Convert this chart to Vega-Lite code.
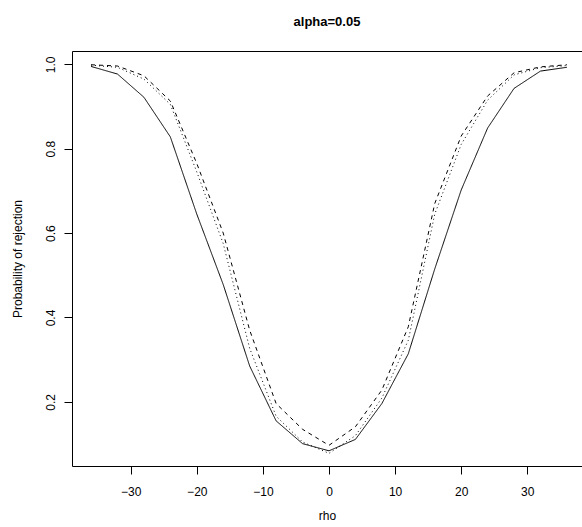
{
  "$schema": "https://vega.github.io/schema/vega-lite/v6.json",
  "width": 510,
  "height": 415,
  "autosize": {"type": "none"},
  "padding": {"left": 72, "top": 51, "right": 0, "bottom": 61},
  "background": "white",
  "title": {"text": "alpha=0.05", "font": "Liberation Sans", "fontSize": 13, "fontWeight": "bold", "color": "black", "anchor": "middle", "offset": 22},
  "config": {
    "view": {"stroke": null},
    "axis": {"labelFont": "Liberation Sans", "titleFont": "Liberation Sans", "labelColor": "black", "titleColor": "black", "tickColor": "black", "domainColor": "black", "grid": false, "titleFontWeight": "normal"}
  },
  "data": {"values": [
    {"rho": -36, "p": 0.995, "s": "a"}, {"rho": -32, "p": 0.977, "s": "a"}, {"rho": -28, "p": 0.922, "s": "a"}, {"rho": -24, "p": 0.828, "s": "a"}, {"rho": -20, "p": 0.645, "s": "a"}, {"rho": -16, "p": 0.478, "s": "a"}, {"rho": -12, "p": 0.285, "s": "a"}, {"rho": -8, "p": 0.155, "s": "a"}, {"rho": -4, "p": 0.101, "s": "a"}, {"rho": 0, "p": 0.084, "s": "a"}, {"rho": 4, "p": 0.111, "s": "a"}, {"rho": 8, "p": 0.196, "s": "a"}, {"rho": 12, "p": 0.314, "s": "a"}, {"rho": 16, "p": 0.515, "s": "a"}, {"rho": 20, "p": 0.702, "s": "a"}, {"rho": 24, "p": 0.849, "s": "a"}, {"rho": 28, "p": 0.943, "s": "a"}, {"rho": 32, "p": 0.984, "s": "a"}, {"rho": 36, "p": 0.993, "s": "a"},
    {"rho": -36, "p": 0.999, "s": "b"}, {"rho": -32, "p": 0.996, "s": "b"}, {"rho": -28, "p": 0.973, "s": "b"}, {"rho": -24, "p": 0.913, "s": "b"}, {"rho": -20, "p": 0.765, "s": "b"}, {"rho": -16, "p": 0.600, "s": "b"}, {"rho": -12, "p": 0.370, "s": "b"}, {"rho": -8, "p": 0.196, "s": "b"}, {"rho": -4, "p": 0.135, "s": "b"}, {"rho": 0, "p": 0.097, "s": "b"}, {"rho": 4, "p": 0.141, "s": "b"}, {"rho": 8, "p": 0.228, "s": "b"}, {"rho": 12, "p": 0.378, "s": "b"}, {"rho": 16, "p": 0.670, "s": "b"}, {"rho": 20, "p": 0.830, "s": "b"}, {"rho": 24, "p": 0.925, "s": "b"}, {"rho": 28, "p": 0.980, "s": "b"}, {"rho": 32, "p": 0.994, "s": "b"}, {"rho": 36, "p": 0.999, "s": "b"},
    {"rho": -36, "p": 0.998, "s": "c"}, {"rho": -32, "p": 0.993, "s": "c"}, {"rho": -28, "p": 0.965, "s": "c"}, {"rho": -24, "p": 0.905, "s": "c"}, {"rho": -20, "p": 0.745, "s": "c"}, {"rho": -16, "p": 0.575, "s": "c"}, {"rho": -12, "p": 0.327, "s": "c"}, {"rho": -8, "p": 0.166, "s": "c"}, {"rho": -4, "p": 0.105, "s": "c"}, {"rho": 0, "p": 0.078, "s": "c"}, {"rho": 4, "p": 0.120, "s": "c"}, {"rho": 8, "p": 0.209, "s": "c"}, {"rho": 12, "p": 0.346, "s": "c"}, {"rho": 16, "p": 0.645, "s": "c"}, {"rho": 20, "p": 0.810, "s": "c"}, {"rho": 24, "p": 0.915, "s": "c"}, {"rho": 28, "p": 0.975, "s": "c"}, {"rho": 32, "p": 0.992, "s": "c"}, {"rho": 36, "p": 0.997, "s": "c"}
  ]},
  "layer": [
    {
      "mark": {"type": "line", "strokeWidth": 1, "color": "black"},
      "encoding": {
        "x": {"field": "rho", "type": "quantitative", "scale": {"domain": [-38.88, 38.28], "nice": false, "zero": false},
          "axis": {"values": [-30, -20, -10, 0, 10, 20, 30], "tickSize": 8, "labelPadding": 12, "labelFontSize": 12, "title": "rho", "titleFontSize": 12, "titleY": 49, "titleBaseline": "middle", "domain": true}},
        "y": {"field": "p", "type": "quantitative", "scale": {"domain": [0.048, 1.0316], "nice": false, "zero": false},
          "axis": {"values": [0.2, 0.4, 0.6, 0.8, 1.0], "format": ".1f", "tickSize": 8, "labelAngle": -90, "labelAlign": "center", "labelBaseline": "alphabetic", "labelPadding": 10, "labelFontSize": 12, "title": "Probability of rejection", "titleFontSize": 12, "titleAngle": -90, "titleX": -55, "titleY": 207.5, "titleAlign": "center", "titleBaseline": "middle", "domain": true}},
        "strokeDash": {"field": "s", "type": "nominal", "scale": {"domain": ["a", "b", "c"], "range": [[1, 0], [4, 4], [1, 3]]}, "legend": null}
      }
    },
    {
      "mark": {"type": "line", "opacity": 0},
      "encoding": {
        "x": {"field": "rho", "type": "quantitative", "scale": {"domain": [-38.88, 38.28], "nice": false, "zero": false},
          "axis": {"orient": "top", "labels": false, "ticks": false, "title": null, "domain": true}},
        "y": {"field": "p", "type": "quantitative"},
        "detail": {"field": "s"}
      }
    }
  ],
  "resolve": {"axis": {"x": "independent"}}
}
